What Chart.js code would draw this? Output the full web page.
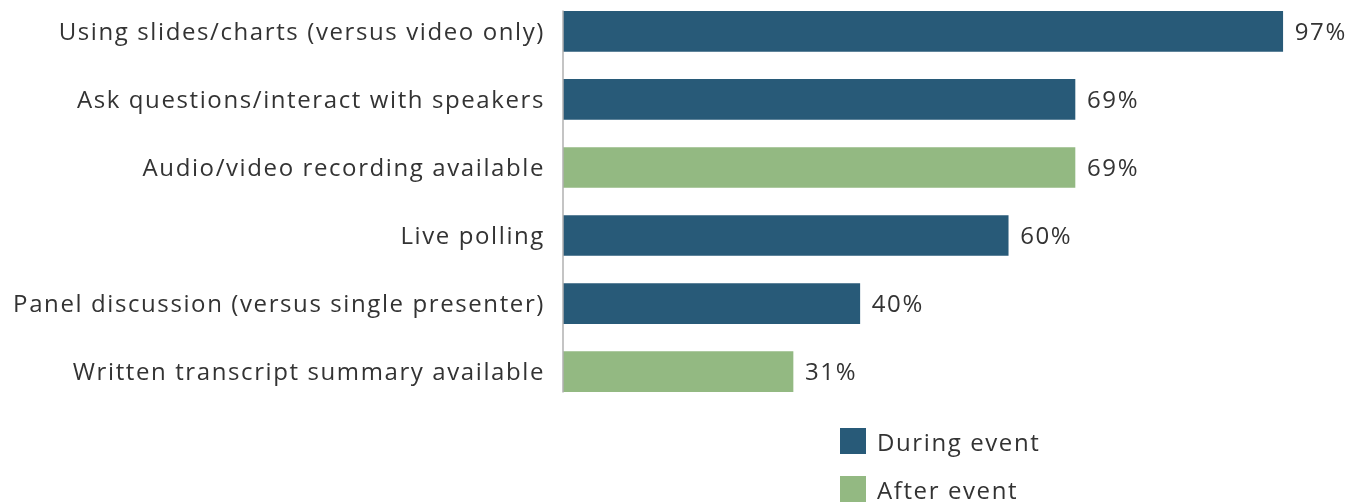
<!DOCTYPE html>
<html>
<head>
<meta charset="utf-8">
<script src="https://cdn.jsdelivr.net/npm/chart.js@4"></script>
<style>
  body { margin: 0; background: #fff; font-family: "Open Sans", sans-serif; }
  #wrap { position: relative; width: 1363px; height: 502px; overflow: hidden; }
  #chart { position: absolute; left: 0; top: -27px; }
  .legend { position: absolute; left: 840px; color: #333; font-size: 24px; letter-spacing: 1.6px; }
  .legend div { display: flex; align-items: center; height: 26px; margin-bottom: 22px; }
  .legend span.box { width: 26px; height: 26px; margin-right: 11px; display: inline-block; }
</style>
</head>
<body>
<div id="wrap">
  <canvas id="chart" width="1363" height="457"></canvas>
  <div class="legend" style="top: 428px;">
    <div><span class="box" style="background:#285a78"></span>During event</div>
    <div><span class="box" style="background:#93b982"></span>After event</div>
  </div>
</div>
<script>
// Categories and values
const categories = [
  "Using slides/charts (versus video only)",
  "Ask questions/interact with speakers",
  "Audio/video recording available",
  "Live polling",
  "Panel discussion (versus single presenter)",
  "Written transcript summary available"
];
const duringEvent = [97, 69, null, 60, 40, null];
const afterEvent = [null, null, 69, null, null, 31];

const BLUE = '#285a78';
const GREEN = '#93b982';
const TEXT = '#333333';
const FONT = '"Open Sans", sans-serif';

// wider text, closer to the original typeface
const spacing = {
  id: 'spacing',
  beforeDraw(chart) { chart.ctx.letterSpacing = '1.6px'; }
};

// Draw the value labels at the end of each bar
const valueLabels = {
  id: 'valueLabels',
  afterDatasetsDraw(chart) {
    const ctx = chart.ctx;
    ctx.save();
    ctx.font = '24px ' + FONT;
    ctx.fillStyle = TEXT;
    ctx.textBaseline = 'middle';
    chart.data.datasets.forEach((ds, i) => {
      chart.getDatasetMeta(i).data.forEach((bar, j) => {
        if (ds.data[j] == null) return;
        ctx.fillText(ds.data[j] + '%', bar.x + 12, bar.y + 2);
      });
    });
    ctx.restore();
  }
};

// Axis line only spans the bars
const axisLine = {
  id: 'axisLine',
  afterDatasetsDraw(chart) {
    const ctx = chart.ctx;
    const x0 = chart.scales.x.getPixelForValue(0);
    const y = chart.scales.y;
    const top = y.getPixelForValue(0) - 21;
    const bottom = y.getPixelForValue(categories.length - 1) + 21;
    ctx.save();
    ctx.strokeStyle = '#b0b0b0';
    ctx.lineWidth = 1.5;
    ctx.beginPath();
    ctx.moveTo(x0, top);
    ctx.lineTo(x0, bottom);
    ctx.stroke();
    ctx.restore();
  }
};

new Chart(document.getElementById('chart'), {
  type: 'bar',
  data: {
    labels: categories,
    datasets: [
      { label: 'During event', data: duringEvent, backgroundColor: BLUE, barThickness: 40, grouped: false },
      { label: 'After event', data: afterEvent, backgroundColor: GREEN, barThickness: 40, grouped: false }
    ]
  },
  options: {
    indexAxis: 'y',
    responsive: false,
    animation: false,
    layout: { padding: { left: 0, right: 58, top: 0, bottom: 0 } },
    plugins: { legend: { display: false }, tooltip: { enabled: false } },
    scales: {
      x: {
        min: 0, max: 100,
        display: false
      },
      y: {
        grid: { display: false },
        border: { display: false },
        ticks: { color: TEXT, font: { family: FONT, size: 24 }, padding: 10, labelOffset: 2 },
        afterFit(scale) { scale.width = 563; }
      }
    }
  },
  plugins: [spacing, valueLabels, axisLine]
});
</script>
</body>
</html>
